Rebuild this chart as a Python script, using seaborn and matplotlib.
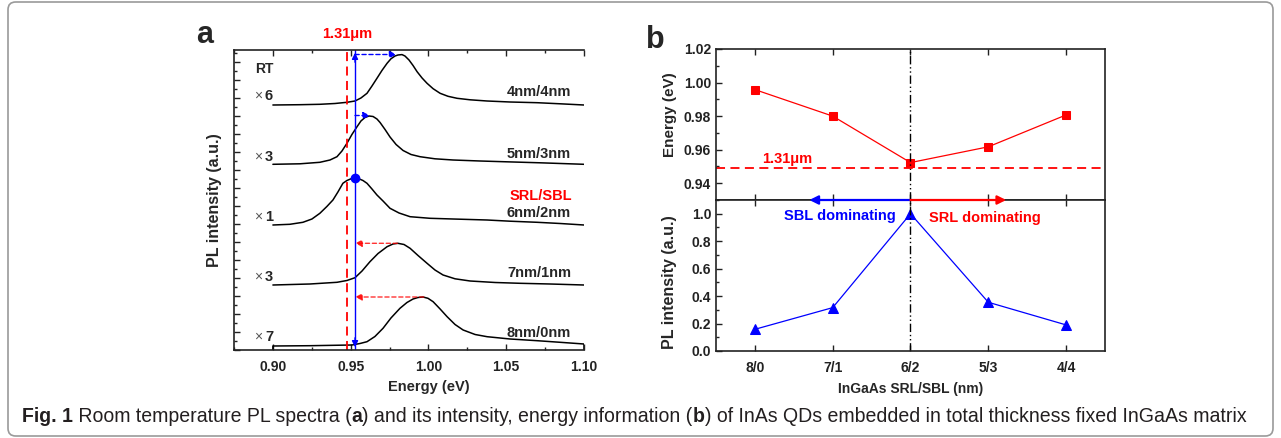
import matplotlib
matplotlib.use("Agg")
import matplotlib.pyplot as plt
from matplotlib.ticker import MultipleLocator, FormatStrFormatter
from matplotlib.patches import FancyBboxPatch
from matplotlib import font_manager
import pandas as pd
import seaborn as sns

# ---- panel a: room temperature PL spectra (stacked, a.u.) ----
energy_4_4 = [0.9000, 0.9174, 0.9302, 0.9399, 0.9476, 0.9528, 0.9566, 0.9605, 0.9637, 0.9669,
              0.9701, 0.9734, 0.9759, 0.9785, 0.9804, 0.9830, 0.9849, 0.9875, 0.9901, 0.9927,
              0.9959, 0.9991, 1.0030, 1.0075, 1.0126, 1.0184, 1.0268, 1.0377, 1.0525, 1.0699,
              1.0847, 1.1000]
pl_4_4 = [24.50, 24.53, 24.57, 24.65, 24.77, 24.90, 25.20, 25.67, 26.40, 27.17,
          27.95, 28.67, 29.12, 29.40, 29.50, 29.54, 29.40, 29.00, 28.45, 27.83,
          27.20, 26.67, 26.13, 25.67, 25.37, 25.17, 25.02, 24.90, 24.80, 24.73,
          24.62, 24.50]

energy_5_3 = [0.9000, 0.9174, 0.9302, 0.9367, 0.9412, 0.9444, 0.9476, 0.9508, 0.9541, 0.9566,
              0.9592, 0.9618, 0.9644, 0.9669, 0.9689, 0.9721, 0.9753, 0.9792, 0.9837, 0.9888,
              0.9946, 1.0042, 1.0158, 1.0332, 1.0480, 1.0718, 1.1000]
pl_5_3 = [18.57, 18.62, 18.77, 19.00, 19.33, 19.90, 20.67, 21.55, 22.33, 22.90,
          23.25, 23.40, 23.35, 23.10, 22.75, 22.05, 21.30, 20.55, 19.95, 19.55,
          19.33, 19.12, 19.00, 18.90, 18.83, 18.72, 18.57]

energy_6_2 = [0.9000, 0.9109, 0.9193, 0.9251, 0.9302, 0.9347, 0.9386, 0.9418, 0.9450, 0.9476,
              0.9502, 0.9528, 0.9553, 0.9579, 0.9605, 0.9637, 0.9669, 0.9708, 0.9753, 0.9811,
              0.9882, 1.0010, 1.0158, 1.0377, 1.0525, 1.0699, 1.0847, 1.1000]
pl_6_2 = [12.50, 12.57, 12.77, 13.10, 13.67, 14.35, 15.00, 15.80, 16.67, 16.95,
          17.12, 17.17, 17.12, 16.95, 16.67, 16.10, 15.50, 14.90, 14.17, 13.70,
          13.33, 13.17, 13.10, 13.00, 12.88, 12.77, 12.65, 12.50]

energy_7_1 = [0.9000, 0.9238, 0.9412, 0.9476, 0.9528, 0.9573, 0.9624, 0.9676, 0.9734, 0.9772,
              0.9804, 0.9843, 0.9882, 0.9933, 0.9991, 1.0042, 1.0094, 1.0171, 1.0268, 1.0429,
              1.0589, 1.0782, 1.1000]
pl_7_1 = [6.50, 6.60, 6.77, 6.95, 7.23, 7.90, 8.83, 9.65, 10.33, 10.60,
          10.67, 10.55, 10.17, 9.45, 8.67, 8.00, 7.50, 7.12, 6.90, 6.75,
          6.67, 6.60, 6.50]

energy_8_0 = [0.9000, 0.9000, 0.9238, 0.9508, 0.9560, 0.9605, 0.9656, 0.9708, 0.9759, 0.9817,
              0.9862, 0.9901, 0.9933, 0.9965, 0.9997, 1.0030, 1.0075, 1.0120, 1.0171, 1.0223,
              1.0300, 1.0377, 1.0525, 1.0699, 1.0847, 1.1000, 1.1000]
pl_8_0 = [0.00, 0.40, 0.43, 0.50, 0.65, 0.83, 1.35, 2.17, 3.20, 4.17,
          4.75, 5.10, 5.25, 5.30, 5.17, 4.83, 4.10, 3.33, 2.55, 2.00,
          1.55, 1.33, 1.10, 0.93, 0.77, 0.60, 0.00]

spectra_names = ["4nm/4nm", "5nm/3nm", "6nm/2nm", "7nm/1nm", "8nm/0nm"]
spectra_scale = ["6", "3", "1", "3", "7"]
label_y = [25.8, 19.6, 13.7, 7.7, 1.7]
scale_y = [25.4, 19.3, 13.3, 7.3, 1.3]

line_131um = 0.9478
ref_peak = 0.9528

# ---- panel b ----
structures = ["8/0", "7/1", "6/2", "5/3", "4/4"]
peak_energy = [0.9958, 0.980, 0.9523, 0.9617, 0.9807]
peak_intensity = [0.158, 0.316, 1.0, 0.355, 0.19]
energy_131um = 0.949

W, H = 1281, 438
RED, BLUE, DARK = "#ff0000", "#0000ff", "#222222"

sns.set_theme(style="ticks", rc={
    "xtick.direction": "in", "ytick.direction": "in",
    "axes.edgecolor": DARK, "axes.linewidth": 1.2,
    "xtick.color": DARK, "ytick.color": DARK,
    "xtick.major.size": 4, "ytick.major.size": 4,
    "xtick.minor.size": 2.5, "ytick.minor.size": 2.5,
    "xtick.major.width": 1, "ytick.major.width": 1,
    "xtick.minor.width": 1, "ytick.minor.width": 1,
    "lines.solid_joinstyle": "round",
})
plt.rcParams["font.family"] = ["Liberation Sans", "DejaVu Sans"]
plt.rcParams["font.weight"] = "bold"
plt.rcParams["axes.labelweight"] = "bold"

fig = plt.figure(figsize=(W / 100, H / 100), dpi=100)

def box(l, t, r, b):
    return [l / W, (H - b) / H, (r - l) / W, (b - t) / H]

# ================= panel a =================
axa = fig.add_axes(box(234, 50, 584, 350))
spectra = [(energy_4_4, pl_4_4), (energy_5_3, pl_5_3), (energy_6_2, pl_6_2),
           (energy_7_1, pl_7_1), (energy_8_0, pl_8_0)]
for e, p in spectra:
    sns.lineplot(x=e, y=p, ax=axa, color="black", lw=1.1, sort=False, estimator=None)

axa.set_xlim(0.875, 1.10)
axa.set_ylim(0, 30)
axa.xaxis.set_major_locator(MultipleLocator(0.05))
axa.xaxis.set_minor_locator(MultipleLocator(0.025))
axa.xaxis.set_major_formatter(FormatStrFormatter("%.2f"))
axa.yaxis.set_major_locator(MultipleLocator(1.8))
axa.yaxis.set_minor_locator(MultipleLocator(0.9))
axa.spines["right"].set_visible(False)
axa.tick_params(which="both", top=True, right=False, labelleft=False, labelsize=10)
axa.tick_params(axis="x", which="major", pad=7)
axa.set_xlabel("Energy (eV)", fontsize=10.5)
axa.xaxis.set_label_coords((429 - 234) / 350, -0.10)
axa.set_ylabel("PL intensity (a.u.)", fontsize=11.5, labelpad=9)

axa.axvline(line_131um, color=RED, ls=(0, (5, 3)), lw=1.3)
axa.axvline(ref_peak, color=BLUE, lw=1.0)
axa.annotate("", xy=(ref_peak, 30), xytext=(ref_peak, 28.5),
             arrowprops=dict(arrowstyle="-|>", color=BLUE, lw=1, mutation_scale=9),
             annotation_clip=False)
axa.annotate("", xy=(ref_peak, 0), xytext=(ref_peak, 1.5),
             arrowprops=dict(arrowstyle="-|>", color=BLUE, lw=1, mutation_scale=9),
             annotation_clip=False)
# shifts of the spectra peaks
axa.annotate("", xy=(0.9795, 29.55), xytext=(ref_peak, 29.55),
             arrowprops=dict(arrowstyle="-|>", color=BLUE, lw=1, ls=(0, (3, 2)),
                             mutation_scale=10, shrinkA=0, shrinkB=0))
axa.annotate("", xy=(0.9625, 23.45), xytext=(ref_peak, 23.45),
             arrowprops=dict(arrowstyle="-|>", color=BLUE, lw=1, ls=(0, (3, 2)),
                             mutation_scale=10, shrinkA=0, shrinkB=0))
axa.plot([ref_peak], [17.17], marker="o", ms=6, color=BLUE)
axa.annotate("", xy=(ref_peak, 10.67), xytext=(0.980, 10.67),
             arrowprops=dict(arrowstyle="-|>", color=RED, lw=1, ls=(0, (3, 2)),
                             mutation_scale=10, shrinkA=0, shrinkB=0, alpha=0.8))
axa.annotate("", xy=(ref_peak, 5.3), xytext=(0.997, 5.3),
             arrowprops=dict(arrowstyle="-|>", color=RED, lw=1, ls=(0, (3, 2)),
                             mutation_scale=10, shrinkA=0, shrinkB=0, alpha=0.8))

axa.text(0.9478, 30.9, "1.31\u03bcm", color=RED, fontsize=10.5, ha="center", va="bottom")
axa.text(0.8945, 28.1, "RT", fontsize=10, ha="center", va="center")
for name, sc, ly, sy in zip(spectra_names, spectra_scale, label_y, scale_y):
    axa.text(1.071, ly, name, fontsize=10.5, ha="center", va="center")
    axa.text(0.8905, sy, "\u00d7", fontsize=10, color="#555555", fontweight="normal",
             ha="center", va="center")
    axa.text(0.8975, sy, sc, fontsize=10.5, ha="center", va="center")
axa.text(1.072, 15.4, "SRL/SBL", fontsize=10.5, color=RED, ha="center", va="center")

fig.text(205 / W, 1 - 35 / H, "a", fontsize=22, ha="center", va="center")

# ================= panel b =================
xpos = list(range(len(structures)))
axt = fig.add_axes(box(716, 49, 1105, 200))
axb = fig.add_axes(box(716, 200, 1105, 351))

df = pd.DataFrame({"pos": xpos, "energy": peak_energy, "intensity": peak_intensity})
sns.lineplot(data=df, x="pos", y="energy", ax=axt, color=RED, lw=0.9, marker="s",
             markersize=6, markeredgecolor=RED)
sns.lineplot(data=df, x="pos", y="intensity", ax=axb, color=BLUE, lw=0.9, marker="^",
             markersize=7.5, markeredgecolor=BLUE)

for ax in (axt, axb):
    ax.set_xlim(-0.5, 4.5)
    ax.set_xticks(xpos)
    ax.axvline(2, color="black", lw=1, ls=(0, (6, 2, 1, 2, 1, 2)))
    ax.tick_params(which="both", top=True, bottom=True, right=False, labelsize=10)
    ax.tick_params(axis="x", which="minor", top=False, bottom=False)

axt.set_ylim(0.93, 1.02)
axt.yaxis.set_major_locator(MultipleLocator(0.02))
axt.yaxis.set_minor_locator(MultipleLocator(0.01))
axt.yaxis.set_major_formatter(FormatStrFormatter("%.2f"))
axt.tick_params(labelbottom=False)
axt.set_xlabel("")
axt.set_ylabel("Energy (eV)", fontsize=11)
axt.yaxis.set_label_coords(-0.10, 0.563)
axt.axhline(energy_131um, color=RED, ls=(0, (5, 3)), lw=1.3)
axt.text(0.42, 0.9543, "1.31\u03bcm", color=RED, fontsize=10.5, ha="center", va="center")

axb.set_ylim(0, 1.1)
axb.yaxis.set_major_locator(MultipleLocator(0.2))
axb.yaxis.set_minor_locator(MultipleLocator(0.1))
axb.yaxis.set_major_formatter(FormatStrFormatter("%.1f"))
axb.set_xticklabels(structures)
axb.tick_params(axis="x", which="major", pad=7)
axb.set_xlabel("InGaAs SRL/SBL (nm)", fontsize=10, labelpad=5)
axb.set_ylabel("PL intensity (a.u.)", fontsize=11.5)
axb.yaxis.set_label_coords(-0.10, 0.457)

axb.annotate("", xy=(0.7, 1.1), xytext=(2, 1.1),
             arrowprops=dict(arrowstyle="-|>", color=BLUE, lw=1.6, mutation_scale=13,
                             shrinkA=0, shrinkB=0), annotation_clip=False)
axb.annotate("", xy=(3.23, 1.1), xytext=(2, 1.1),
             arrowprops=dict(arrowstyle="-|>", color=RED, lw=1.6, mutation_scale=13,
                             shrinkA=0, shrinkB=0), annotation_clip=False)
axb.text(1.09, 0.98, "SBL dominating", color=BLUE, fontsize=10.5, ha="center", va="center")
axb.text(2.96, 0.97, "SRL dominating", color=RED, fontsize=10.5, ha="center", va="center")

fig.text(655 / W, 1 - 40 / H, "b", fontsize=22, ha="center", va="center")

# ================= caption and frame =================
names = {f.name for f in font_manager.fontManager.ttflist}
cap_font = "Liberation Sans Narrow" if "Liberation Sans Narrow" in names else "Liberation Sans"
pieces = [("Fig. 1", "bold"), (" Room temperature PL spectra (", "normal"), ("a", "bold"),
          (") and its intensity, energy information (", "normal"), ("b", "bold"),
          (") of InAs QDs embedded in total thickness fixed InGaAs matrix", "normal")]
fig.canvas.draw()
r = fig.canvas.get_renderer()
probe = []
for s, w in pieces:
    t = fig.text(0, 0, s, fontsize=12, fontweight=w, family=cap_font)
    probe.append(t.get_window_extent(renderer=r).width)
    t.remove()
cap_size = 12 * 1225 / sum(probe)
x = 22
for s, w in pieces:
    t = fig.text(x / W, 1 - 416 / H, s, fontsize=cap_size, fontweight=w,
                 family=cap_font, color="#231f20", va="center")
    x += t.get_window_extent(renderer=r).width

frame = FancyBboxPatch((8 / W, 2 / H), 1265 / W, 434 / H,
                       boxstyle="round,pad=0,rounding_size=0.006",
                       mutation_aspect=W / H, transform=fig.transFigure,
                       fill=False, ec="#9a9a9a", lw=1.2)
fig.patches.append(frame)

fig.savefig("out.png", dpi=100)
